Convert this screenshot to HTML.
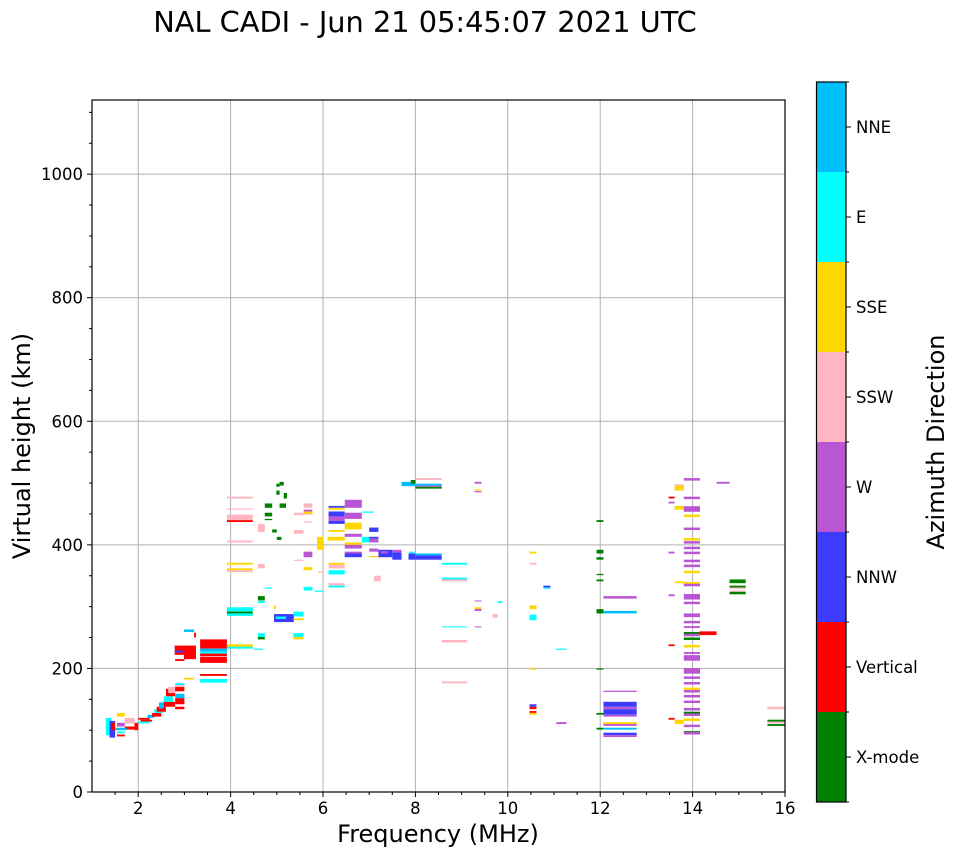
<!DOCTYPE html>
<html><head><meta charset="utf-8"><style>
html,body{margin:0;padding:0;background:#fff;}
svg{display:block;font-family:"DejaVu Sans","Liberation Sans",sans-serif;}
</style></head><body>
<svg id="chart" width="958" height="857" xmlns="http://www.w3.org/2000/svg">
<text x="425" y="32" font-size="28.8" text-anchor="middle">NAL CADI - Jun 21 05:45:07 2021 UTC</text>
<g id="grid"></g>
<g id="marks"></g>
<g id="axes"></g>
<text x="438" y="842" font-size="24" text-anchor="middle">Frequency (MHz)</text>
<text transform="translate(30,446) rotate(-90)" font-size="24" text-anchor="middle">Virtual height (km)</text>
<g id="cbar"></g>
<text transform="translate(944,442) rotate(-90)" font-size="24" text-anchor="middle">Azimuth Direction</text>
</svg>
<script>
const categories = ["X-mode","Vertical","NNW","W","SSW","SSE","E","NNE"];
const catColors = ["#008000","#ff0000","#3c3cff","#ba55d3","#ffb6c1","#ffd700","#00ffff","#00bfff"];
const xTicks = [2,4,6,8,10,12,14,16];
const yTicks = [0,200,400,600,800,1000];
// echoes: [freqStart, freqEnd, heightLow, heightHigh, categoryIndex]
const echoes = [
 [1.3,1.42,92,120,6],[1.38,1.5,88,115,2],[1.42,1.5,100,112,1],[1.54,1.71,122,128,5],[1.71,1.92,111,120,4],[1.54,1.71,106,112,3],
 [1.54,1.71,95,98,6],[1.54,1.71,90,93,1],[1.71,1.92,101,106,1],[1.5,1.75,100,104,7],[1.92,2.0,100,112,1],
 [2.0,2.25,117,120,1],[2.0,2.25,111,114,6],[2.05,2.3,114,117,1],[2.2,2.35,120,125,7],[2.3,2.5,122,128,1],[2.35,2.55,128,134,6],
 [2.4,2.6,130,138,1],[2.45,2.55,135,145,7],[2.55,2.8,138,146,1],[2.55,2.75,146,155,6],[2.6,2.8,155,167,1],[2.65,2.8,160,170,4],
 [2.8,3.0,163,170,1],[2.8,3.0,170,173,4],[2.8,3.0,173,176,6],[2.8,3.0,142,152,1],[2.8,3.0,152,159,7],[2.8,3.0,134,138,1],
 [2.8,3.0,212,215,1],[2.79,2.99,222,237,1],[2.79,2.99,226,229,2],[2.99,3.25,215,237,1],[2.99,3.21,259,263,7],[3.21,3.25,250,258,1],
 [3.34,3.92,232,247,1],[3.34,3.92,227,232,7],[3.34,3.92,224,227,6],[3.34,3.92,220,224,1],[3.34,3.92,209,219,1],[3.34,3.92,188,191,1],
 [3.34,3.92,177,183,6],[2.99,3.21,182,185,5],[3.92,4.48,235,239,5],[3.92,4.48,232,235,6],[3.92,4.48,292,299,6],[3.92,4.48,289,292,0],
 [3.92,4.48,285,289,6],[3.92,4.48,368,371,5],[3.92,4.48,359,362,5],[3.92,4.48,356,359,4],[3.92,4.48,404,407,4],[3.92,4.48,440,449,4],
 [3.92,4.48,437,440,1],[3.92,4.48,475,478,4],[3.92,4.48,457,459,4],[4.5,4.7,230,232,6],[4.59,4.74,310,317,0],[4.59,4.74,306,309,6],
 [4.59,4.74,251,257,6],[4.59,4.74,247,251,0],[4.59,4.74,421,434,4],[4.59,4.74,362,369,4],[4.74,4.9,460,467,0],[4.74,4.9,446,452,0],
 [4.74,4.9,440,442,0],[4.74,4.89,329,331,6],[4.94,4.98,296,302,5],[4.94,5.37,275,288,2],[4.98,5.2,280,284,6],[5.06,5.15,496,502,0],
 [4.99,5.06,494,499,0],[5.15,5.22,475,484,0],[4.99,5.06,481,488,0],[5.06,5.2,460,467,0],[4.9,5.0,420,425,0],[5.0,5.1,408,413,0],
 [5.36,5.58,284,292,6],[5.36,5.58,278,281,5],[5.36,5.58,251,257,6],[5.36,5.58,247,251,5],[5.37,5.58,418,424,4],[5.37,5.58,448,452,4],
 [5.37,5.58,374,376,4],[5.58,5.77,460,467,4],[5.58,5.77,449,452,4],[5.58,5.77,436,438,4],[5.58,5.77,454,457,3],[5.58,5.77,450,454,5],
 [5.58,5.77,359,364,5],[5.58,5.77,380,389,3],[5.58,5.77,326,332,6],[5.82,6.0,324,326,6],[5.87,6.0,392,413,5],[5.9,6.0,355,357,4],
 [6.12,6.47,460,463,2],[6.12,6.47,457,460,5],[6.12,6.47,446,454,2],[6.12,6.47,439,446,3],[6.12,6.47,434,439,2],[6.12,6.47,421,424,5],
 [6.1,6.47,407,413,5],[6.12,6.47,368,371,5],[6.12,6.47,362,368,4],[6.12,6.47,352,359,6],[6.12,6.47,334,338,4],[6.12,6.47,331,334,6],
 [6.47,6.84,460,473,3],[6.47,6.84,442,452,3],[6.47,6.84,425,436,5],[6.47,6.84,413,418,3],[6.47,6.84,400,404,5],[6.47,6.84,394,400,3],
 [6.47,6.84,386,389,3],[6.47,6.84,380,386,2],[6.84,7.1,452,454,6],[6.84,7.0,404,413,6],[7.0,7.2,421,428,2],[7.0,7.2,410,413,2],
 [7.0,7.2,404,410,3],[7.0,7.2,389,394,3],[7.0,7.2,380,382,5],[7.2,7.5,380,392,2],[7.25,7.4,386,390,3],[7.5,7.7,376,388,2],
 [7.5,7.7,388,392,3],[7.1,7.25,341,350,4],[7.87,7.98,386,389,6],[7.85,8.0,376,386,2],[8.0,8.57,383,386,7],[8.0,8.57,376,383,2],
 [7.7,8.0,495,502,7],[7.9,8.0,499,505,0],[8.0,8.57,505,508,4],[8.0,8.57,496,499,7],[8.0,8.57,494,496,3],[8.0,8.57,491,494,0],
 [8.57,9.12,368,371,6],[8.57,9.12,344,347,6],[8.57,9.12,341,344,4],[8.57,9.12,267,268,6],[8.57,9.12,242,246,4],[8.57,9.12,176,179,4],
 [9.28,9.43,499,502,3],[9.28,9.43,488,490,5],[9.28,9.43,485,487,3],[9.28,9.43,309,310,3],[9.28,9.43,296,299,5],[9.28,9.43,293,296,3],
 [9.28,9.43,267,268,3],[9.78,9.88,306,309,6],[9.67,9.78,282,288,4],[10.47,10.62,386,389,5],[10.47,10.62,368,371,4],[10.47,10.62,296,302,5],
 [10.47,10.62,278,287,6],[10.47,10.62,198,200,5],[10.47,10.62,138,142,2],[10.47,10.62,134,138,1],[10.47,10.62,128,131,1],[10.47,10.62,125,128,5],
 [10.77,10.92,331,334,2],[10.77,10.92,329,331,6],[11.05,11.27,230,232,6],[11.05,11.27,110,113,3],
 [11.92,12.07,437,440,0],[11.92,12.07,386,392,0],[11.92,12.07,376,380,0],[11.92,12.07,351,353,0],[11.92,12.07,341,344,0],[11.92,12.07,289,296,0],
 [11.92,12.07,198,200,0],[11.92,12.07,125,128,0],[11.92,12.07,101,104,0],
 [12.07,12.79,289,293,7],[12.07,12.79,313,317,3],[12.07,12.79,162,164,3],[12.07,12.79,138,146,2],[12.07,12.79,134,138,3],[12.07,12.79,125,134,2],
 [12.07,12.79,122,125,3],[12.07,12.79,110,113,5],[12.07,12.79,107,110,3],[12.07,12.79,101,104,7],[12.07,12.79,92,96,2],[12.07,12.79,89,92,3],
 [13.48,13.61,475,478,1],[13.48,13.61,467,470,3],[13.61,13.81,488,496,5],[13.61,13.81,496,498,4],[13.61,13.81,457,463,5],[13.48,13.61,386,389,3],
 [13.61,13.81,338,341,5],[13.48,13.61,317,320,3],[13.48,13.61,236,239,1],[13.48,13.61,117,120,1],[13.61,13.81,110,117,5],
 [14.15,14.52,254,260,1],[14.52,14.8,499,502,3],
 [14.8,15.15,338,344,0],[14.8,15.15,331,334,0],[14.8,15.15,329,331,4],[14.8,15.15,324,326,4],[14.8,15.15,320,324,0],
 [15.62,16,134,138,4],[15.62,16,114,117,0],[15.62,16,111,114,4],[15.62,16,107,110,0]
];
// column of echoes at ~14 MHz: heights (km) and categories
const colHeights = [506,476,458,447,426,409,404,395,387,374,366,356,338,335,316,306,286,275,267,257,254,248,236,225,217,196,185,176,167,163,155,146,134,128,125,117,107,97,95];
const colCats =    [3,3,3,5,3,5,3,3,3,3,3,5,5,3,3,3,3,3,3,0,3,0,5,3,3,3,3,3,5,3,3,3,3,0,3,5,3,0,3];
const colThick =   [4,4,9,4,4,4,4,4,4,4,4,4,4,4,9,4,6,4,3,4,4,4,4,3,9,9,4,4,4,4,4,4,4,4,4,4,4,3,4];
const colF0 = 13.81, colF1 = 14.16;

const X0=92, X1=785, Y0=792, Y1=100;
const fx = f => X0 + (f-1)*(X1-X0)/15;
const hy = h => Y0 - h*(Y0-Y1)/1120;
const NS="http://www.w3.org/2000/svg";
function mk(tag, attrs, parent){const e=document.createElementNS(NS,tag);for(const k in attrs)e.setAttribute(k,attrs[k]);parent.appendChild(e);return e;}
const grid=document.getElementById('grid'), marks=document.getElementById('marks'), axes=document.getElementById('axes'), cbar=document.getElementById('cbar');
xTicks.forEach(t=>{ if(t<16){const l=mk('line',{x1:fx(t),x2:fx(t),y1:Y1,y2:Y0,stroke:'#b0b0b0','stroke-width':1},grid);
 
 }});
yTicks.forEach(t=>{ if(t>0){const l=mk('line',{x1:X0,x2:X1,y1:hy(t),y2:hy(t),stroke:'#b0b0b0','stroke-width':1},grid);
 
 }});
echoes.forEach(d=>{const r=mk('rect',{x:fx(d[0]),y:hy(d[3]),width:Math.max(1,fx(d[1])-fx(d[0])),height:Math.max(1,hy(d[2])-hy(d[3])),fill:catColors[d[4]]},marks);
 
 });
colHeights.forEach((h,i)=>{const r=mk('rect',{x:fx(colF0),y:hy(h+colThick[i]/2),width:fx(colF1)-fx(colF0),height:Math.max(1.5,colThick[i]*0.618),fill:catColors[colCats[i]]},marks);
 
 });
const fr=mk('rect',{x:X0,y:Y1,width:X1-X0,height:Y0-Y1,fill:'none',stroke:'#000','stroke-width':1.2},axes);


xTicks.forEach(t=>{mk('line',{x1:fx(t),x2:fx(t),y1:Y0,y2:Y0+5,stroke:'#000'},axes);
 const tx=mk('text',{x:fx(t),y:Y0+22,'font-size':16.5,'text-anchor':'middle'},axes);tx.textContent=t;
 
 });
for(let f=1.5;f<16;f+=1) mk('line',{x1:fx(f),x2:fx(f),y1:Y0,y2:Y0+3,stroke:'#000'},axes);
for(let f=3;f<16;f+=2) mk('line',{x1:fx(f),x2:fx(f),y1:Y0,y2:Y0+3,stroke:'#000'},axes);
yTicks.forEach(t=>{mk('line',{x1:X0-5,x2:X0,y1:hy(t),y2:hy(t),stroke:'#000'},axes);
 const tx=mk('text',{x:X0-9,y:hy(t)+6,'font-size':16.5,'text-anchor':'end'},axes);tx.textContent=t;
 
 });
for(let h=50;h<1120;h+=50){ if(h%200!==0) mk('line',{x1:X0-3,x2:X0,y1:hy(h),y2:hy(h),stroke:'#000'},axes);}
const CX=816.5, CW=29.5, CT=82, SEG=90;
categories.forEach((c,i)=>{const top=CT+(7-i)*SEG;
 const r=mk('rect',{x:CX,y:top,width:CW,height:SEG,fill:catColors[i]},cbar);
 
 
 mk('line',{x1:CX+CW,x2:CX+CW+5,y1:top+SEG/2,y2:top+SEG/2,stroke:'#000'},cbar);
 const tx=mk('text',{x:CX+CW+10,y:top+SEG/2+6,'font-size':16.5},cbar);tx.textContent=c;
 
 });
for(let i=0;i<=8;i++) mk('line',{x1:CX+CW,x2:CX+CW+3,y1:CT+i*SEG,y2:CT+i*SEG,stroke:'#000'},cbar);
mk('rect',{x:CX,y:CT,width:CW,height:SEG*8,fill:'none',stroke:'#000','stroke-width':1.2},cbar);
</script>
</body></html>
